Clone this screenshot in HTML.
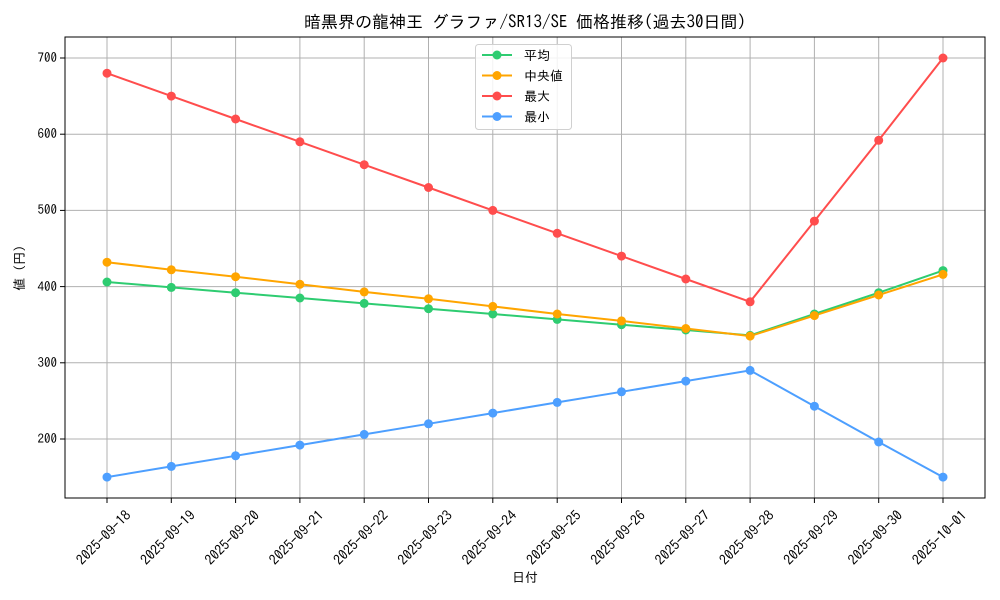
<!DOCTYPE html><html><head><meta charset="utf-8"><style>body{margin:0;background:#fff}svg{display:block;font-family:"IPAGothic","Noto Sans CJK JP",sans-serif}</style></head><body>
<svg width="1000" height="600" xmlns="http://www.w3.org/2000/svg">
<rect width="1000" height="600" fill="#fff"/>
<g stroke="#b0b0b0" stroke-width="1">
<line x1="107" y1="37" x2="107" y2="498"/><line x1="171.3" y1="37" x2="171.3" y2="498"/><line x1="235.6" y1="37" x2="235.6" y2="498"/><line x1="299.9" y1="37" x2="299.9" y2="498"/><line x1="364.2" y1="37" x2="364.2" y2="498"/><line x1="428.5" y1="37" x2="428.5" y2="498"/><line x1="492.8" y1="37" x2="492.8" y2="498"/><line x1="557.2" y1="37" x2="557.2" y2="498"/><line x1="621.5" y1="37" x2="621.5" y2="498"/><line x1="685.8" y1="37" x2="685.8" y2="498"/><line x1="750.1" y1="37" x2="750.1" y2="498"/><line x1="814.4" y1="37" x2="814.4" y2="498"/><line x1="878.7" y1="37" x2="878.7" y2="498"/><line x1="943" y1="37" x2="943" y2="498"/>
<line x1="65" y1="439" x2="985" y2="439"/><line x1="65" y1="362.8" x2="985" y2="362.8"/><line x1="65" y1="286.6" x2="985" y2="286.6"/><line x1="65" y1="210.4" x2="985" y2="210.4"/><line x1="65" y1="134.2" x2="985" y2="134.2"/><line x1="65" y1="58" x2="985" y2="58"/>
</g>
<rect x="65" y="37" width="920" height="461" fill="none" stroke="#000" stroke-width="1"/>
<g stroke="#000"><line x1="60" y1="439" x2="65" y2="439"/><line x1="60" y1="362.8" x2="65" y2="362.8"/><line x1="60" y1="286.6" x2="65" y2="286.6"/><line x1="60" y1="210.4" x2="65" y2="210.4"/><line x1="60" y1="134.2" x2="65" y2="134.2"/><line x1="60" y1="58" x2="65" y2="58"/>
<line x1="107" y1="498" x2="107" y2="503"/><line x1="171.3" y1="498" x2="171.3" y2="503"/><line x1="235.6" y1="498" x2="235.6" y2="503"/><line x1="299.9" y1="498" x2="299.9" y2="503"/><line x1="364.2" y1="498" x2="364.2" y2="503"/><line x1="428.5" y1="498" x2="428.5" y2="503"/><line x1="492.8" y1="498" x2="492.8" y2="503"/><line x1="557.2" y1="498" x2="557.2" y2="503"/><line x1="621.5" y1="498" x2="621.5" y2="503"/><line x1="685.8" y1="498" x2="685.8" y2="503"/><line x1="750.1" y1="498" x2="750.1" y2="503"/><line x1="814.4" y1="498" x2="814.4" y2="503"/><line x1="878.7" y1="498" x2="878.7" y2="503"/><line x1="943" y1="498" x2="943" y2="503"/></g>
<g font-size="13" text-anchor="end"><text x="57" y="443">200</text><text x="57" y="367">300</text><text x="57" y="291">400</text><text x="57" y="214">500</text><text x="57" y="138">600</text><text x="57" y="62">700</text></g>
<g font-size="14" text-anchor="middle">
<text transform="translate(107,541) rotate(-45)">2025-09-18</text><text transform="translate(171.3,541) rotate(-45)">2025-09-19</text><text transform="translate(235.6,541) rotate(-45)">2025-09-20</text><text transform="translate(299.9,541) rotate(-45)">2025-09-21</text><text transform="translate(364.2,541) rotate(-45)">2025-09-22</text><text transform="translate(428.5,541) rotate(-45)">2025-09-23</text><text transform="translate(492.8,541) rotate(-45)">2025-09-24</text><text transform="translate(557.2,541) rotate(-45)">2025-09-25</text><text transform="translate(621.5,541) rotate(-45)">2025-09-26</text><text transform="translate(685.8,541) rotate(-45)">2025-09-27</text><text transform="translate(750.1,541) rotate(-45)">2025-09-28</text><text transform="translate(814.4,541) rotate(-45)">2025-09-29</text><text transform="translate(878.7,541) rotate(-45)">2025-09-30</text><text transform="translate(943,541) rotate(-45)">2025-10-01</text>
</g>
<text x="525" y="582" font-size="13" text-anchor="middle">日付</text>
<text transform="translate(24,268) rotate(-90)" font-size="13" text-anchor="middle">値 (円)</text>
<text x="525" y="28" font-size="17" text-anchor="middle">暗黒界の龍神王 グラファ/SR13/SE 価格推移(過去30日間)</text>
<g fill="none" stroke-width="2">
<polyline stroke="#2ecc71" points="107,282 171.3,287.4 235.6,292.7 299.9,298 364.2,303.4 428.5,308.7 492.8,314 557.2,319.4 621.5,324.7 685.8,330 750.1,335.4 814.4,314 878.7,292.7 943,270.6"/>
<polyline stroke="#ffa500" points="107,262.2 171.3,269.8 235.6,276.7 299.9,284.3 364.2,291.9 428.5,298.8 492.8,306.4 557.2,314 621.5,320.9 685.8,328.5 750.1,336.1 814.4,315.6 878.7,295 943,274.4"/>
<polyline stroke="#ff4d4d" points="107,73.2 171.3,96.1 235.6,119 299.9,141.8 364.2,164.7 428.5,187.5 492.8,210.4 557.2,233.3 621.5,256.1 685.8,279 750.1,301.8 814.4,221.1 878.7,140.3 943,58"/>
<polyline stroke="#4d9fff" points="107,477.1 171.3,466.4 235.6,455.8 299.9,445.1 364.2,434.4 428.5,423.8 492.8,413.1 557.2,402.4 621.5,391.8 685.8,381.1 750.1,370.4 814.4,406.2 878.7,442 943,477.1"/>
</g>
<g fill="#2ecc71"><circle cx="107" cy="282" r="4.5"/><circle cx="171.3" cy="287.4" r="4.5"/><circle cx="235.6" cy="292.7" r="4.5"/><circle cx="299.9" cy="298" r="4.5"/><circle cx="364.2" cy="303.4" r="4.5"/><circle cx="428.5" cy="308.7" r="4.5"/><circle cx="492.8" cy="314" r="4.5"/><circle cx="557.2" cy="319.4" r="4.5"/><circle cx="621.5" cy="324.7" r="4.5"/><circle cx="685.8" cy="330" r="4.5"/><circle cx="750.1" cy="335.4" r="4.5"/><circle cx="814.4" cy="314" r="4.5"/><circle cx="878.7" cy="292.7" r="4.5"/><circle cx="943" cy="270.6" r="4.5"/></g>
<g fill="#ffa500"><circle cx="107" cy="262.2" r="4.5"/><circle cx="171.3" cy="269.8" r="4.5"/><circle cx="235.6" cy="276.7" r="4.5"/><circle cx="299.9" cy="284.3" r="4.5"/><circle cx="364.2" cy="291.9" r="4.5"/><circle cx="428.5" cy="298.8" r="4.5"/><circle cx="492.8" cy="306.4" r="4.5"/><circle cx="557.2" cy="314" r="4.5"/><circle cx="621.5" cy="320.9" r="4.5"/><circle cx="685.8" cy="328.5" r="4.5"/><circle cx="750.1" cy="336.1" r="4.5"/><circle cx="814.4" cy="315.6" r="4.5"/><circle cx="878.7" cy="295" r="4.5"/><circle cx="943" cy="274.4" r="4.5"/></g>
<g fill="#ff4d4d"><circle cx="107" cy="73.2" r="4.5"/><circle cx="171.3" cy="96.1" r="4.5"/><circle cx="235.6" cy="119" r="4.5"/><circle cx="299.9" cy="141.8" r="4.5"/><circle cx="364.2" cy="164.7" r="4.5"/><circle cx="428.5" cy="187.5" r="4.5"/><circle cx="492.8" cy="210.4" r="4.5"/><circle cx="557.2" cy="233.3" r="4.5"/><circle cx="621.5" cy="256.1" r="4.5"/><circle cx="685.8" cy="279" r="4.5"/><circle cx="750.1" cy="301.8" r="4.5"/><circle cx="814.4" cy="221.1" r="4.5"/><circle cx="878.7" cy="140.3" r="4.5"/><circle cx="943" cy="58" r="4.5"/></g>
<g fill="#4d9fff"><circle cx="107" cy="477.1" r="4.5"/><circle cx="171.3" cy="466.4" r="4.5"/><circle cx="235.6" cy="455.8" r="4.5"/><circle cx="299.9" cy="445.1" r="4.5"/><circle cx="364.2" cy="434.4" r="4.5"/><circle cx="428.5" cy="423.8" r="4.5"/><circle cx="492.8" cy="413.1" r="4.5"/><circle cx="557.2" cy="402.4" r="4.5"/><circle cx="621.5" cy="391.8" r="4.5"/><circle cx="685.8" cy="381.1" r="4.5"/><circle cx="750.1" cy="370.4" r="4.5"/><circle cx="814.4" cy="406.2" r="4.5"/><circle cx="878.7" cy="442" r="4.5"/><circle cx="943" cy="477.1" r="4.5"/></g>
<rect x="475.5" y="44.5" width="96" height="85" rx="3" fill="#fff" fill-opacity="0.85" stroke="#d0d0d0"/>
<g stroke-width="2"><line x1="482" y1="55" x2="512" y2="55" stroke="#2ecc71"/><line x1="482" y1="75.5" x2="512" y2="75.5" stroke="#ffa500"/><line x1="482" y1="96" x2="512" y2="96" stroke="#ff4d4d"/><line x1="482" y1="116.5" x2="512" y2="116.5" stroke="#4d9fff"/></g>
<circle cx="497" cy="55" r="4.5" fill="#2ecc71"/><circle cx="497" cy="75.5" r="4.5" fill="#ffa500"/><circle cx="497" cy="96" r="4.5" fill="#ff4d4d"/><circle cx="497" cy="116.5" r="4.5" fill="#4d9fff"/>
<g font-size="13"><text x="524" y="60">平均</text><text x="524" y="80.5">中央値</text><text x="524" y="101">最大</text><text x="524" y="121.5">最小</text></g>
</svg></body></html>
